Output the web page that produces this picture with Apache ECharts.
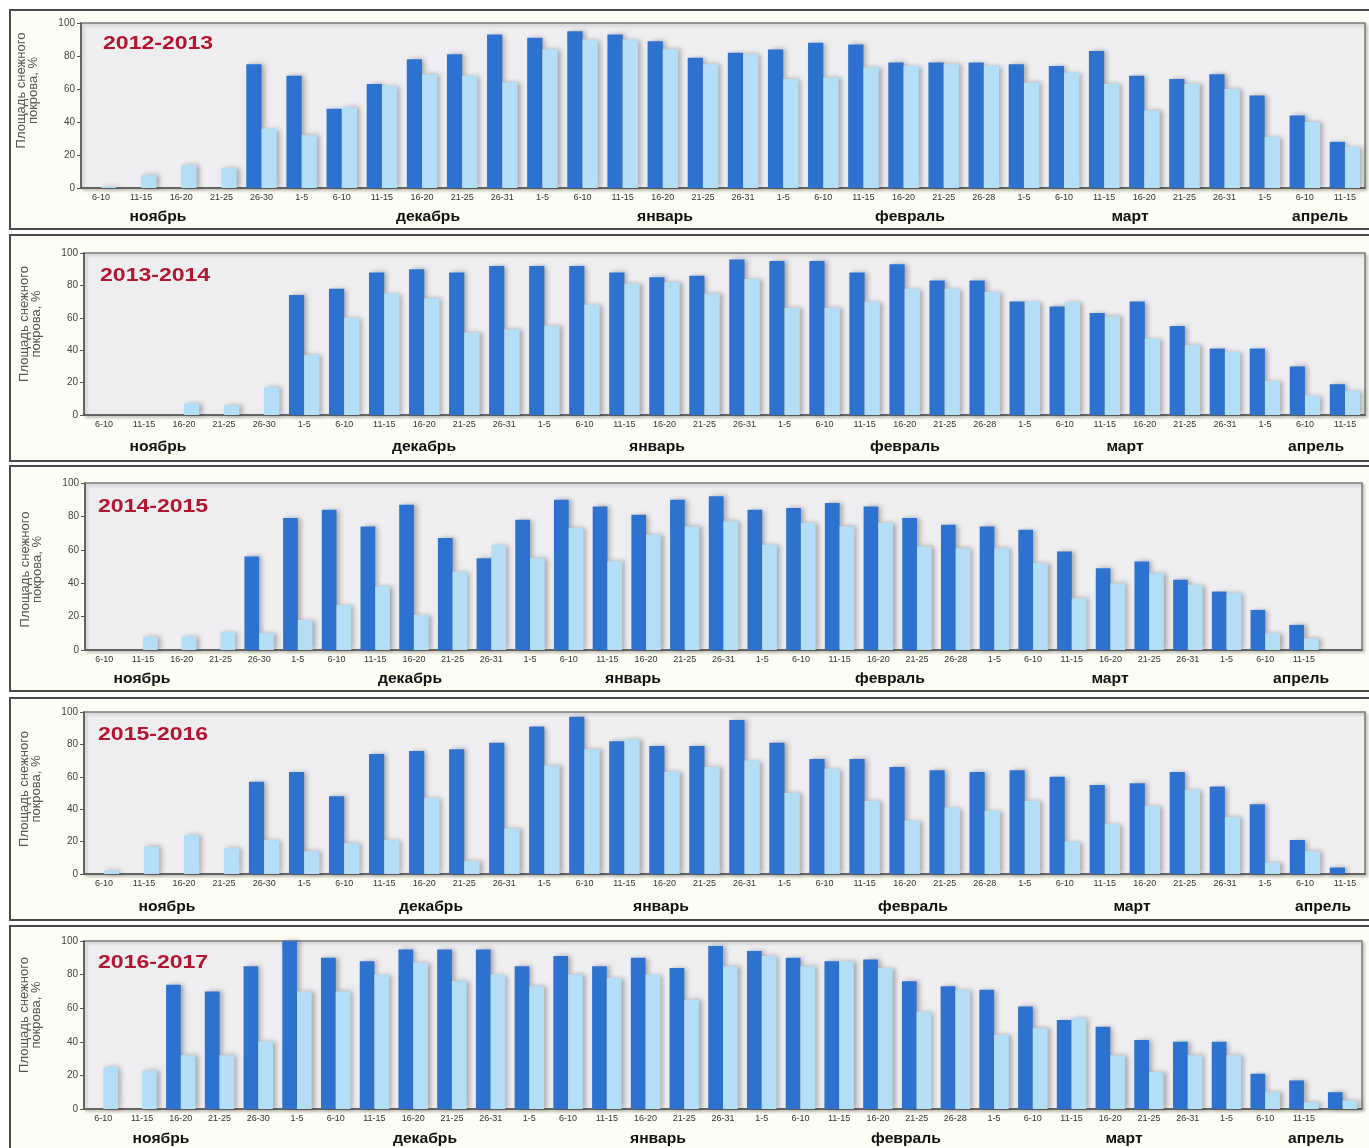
<!DOCTYPE html>
<html>
<head>
<meta charset="utf-8">
<script src="https://cdn.jsdelivr.net/npm/echarts@6/dist/echarts.min.js"></script>
<style>
  html, body { margin: 0; padding: 0; background: #fff; }
  #chart { width: 1369px; height: 1148px; }
</style>
</head>
<body>
<div id="chart"></div>
<script>
// пятидневки с 6 ноября по 15 апреля
const periods = [
  "6-10", "11-15", "16-20", "21-25", "26-30",
  "1-5", "6-10", "11-15", "16-20", "21-25", "26-31",
  "1-5", "6-10", "11-15", "16-20", "21-25", "26-31",
  "1-5", "6-10", "11-15", "16-20", "21-25", "26-28",
  "1-5", "6-10", "11-15", "16-20", "21-25", "26-31",
  "1-5", "6-10", "11-15",
];
// у двух сезонов есть ещё одна пятидневка без подписи
const periodsExt = periods.concat([""]);

const months = ["ноябрь", "декабрь", "январь", "февраль", "март", "апрель"];
const seasons = ["2012-2013", "2013-2014", "2014-2015", "2015-2016", "2016-2017"];
const yTicks = { min: 0, max: 100, interval: 20 };

// площадь снежного покрова, % (тёмные / светлые столбцы)
const dark1213 = [0, 0, 0, 0, 75, 68, 48, 63, 78, 81, 93, 91, 95, 93, 89, 79, 82, 84, 88, 87, 76, 76, 76, 75, 74, 83, 68, 66, 69, 56, 44, 28];
const light1213 = [1, 8, 14, 12, 36, 32, 49, 62, 69, 68, 64, 84, 90, 90, 84, 75, 81, 66, 67, 73, 74, 75, 74, 64, 70, 63, 47, 63, 60, 31, 40, 25];

const dark1314 = [0, 0, 0, 0, 0, 74, 78, 88, 90, 88, 92, 92, 92, 88, 85, 86, 96, 95, 95, 88, 93, 83, 83, 70, 67, 63, 70, 55, 41, 41, 30, 19];
const light1314 = [0, 0, 7, 6, 17, 37, 60, 75, 72, 51, 53, 55, 68, 81, 82, 75, 84, 66, 66, 70, 78, 78, 76, 70, 70, 61, 47, 43, 39, 21, 12, 15];

const dark1415 = [0, 0, 0, 0, 56, 79, 84, 74, 87, 67, 55, 78, 90, 86, 81, 90, 92, 84, 85, 88, 86, 79, 75, 74, 72, 59, 49, 53, 42, 35, 24, 15, null];
const light1415 = [0, 8, 8, 11, 10, 18, 27, 38, 21, 47, 63, 55, 73, 53, 69, 74, 77, 63, 76, 74, 76, 62, 61, 61, 52, 31, 40, 46, 39, 34, 10, 7, null];

const dark1516 = [0, 0, 0, 0, 57, 63, 48, 74, 76, 77, 81, 91, 97, 82, 79, 79, 95, 81, 71, 71, 66, 64, 63, 64, 60, 55, 56, 63, 54, 43, 21, 4];
const light1516 = [2, 17, 24, 16, 21, 14, 19, 21, 47, 8, 28, 67, 77, 83, 63, 66, 70, 50, 65, 45, 33, 41, 39, 45, 20, 31, 42, 52, 35, 7, 14, 0];

const dark1617 = [0, 0, 74, 70, 85, 100, 90, 88, 95, 95, 95, 85, 91, 85, 90, 84, 97, 94, 90, 88, 89, 76, 73, 71, 61, 53, 49, 41, 40, 40, 21, 17, 10];
const light1617 = [25, 23, 32, 32, 40, 70, 70, 80, 87, 76, 80, 73, 80, 78, 80, 65, 85, 91, 85, 88, 84, 58, 71, 44, 48, 54, 32, 22, 32, 32, 10, 4, 5];

// раскладка панелей (px); nameShift — сдвиг подписи оси Y вверх
const panels = [
  { season: seasons[0], cats: periods, dark: dark1213, light: light1213,
    frame: [10, 10, 1362, 219], grid: [81, 23, 1284, 165], nameShift: 15,
    yearAt: [103, 44], monthX: [158, 428, 665, 910, 1130, 1320], monthY: 217 },
  { season: seasons[1], cats: periods, dark: dark1314, light: light1314,
    frame: [10, 235, 1362, 226], grid: [84, 253, 1281, 162], nameShift: 10,
    yearAt: [100, 276], monthX: [158, 424, 657, 905, 1125, 1316], monthY: 447 },
  { season: seasons[2], cats: periodsExt, dark: dark1415, light: light1415,
    frame: [10, 466, 1362, 225], grid: [85, 483, 1277, 167], nameShift: -3,
    yearAt: [98, 507], monthX: [142, 410, 633, 890, 1110, 1301], monthY: 679 },
  { season: seasons[3], cats: periods, dark: dark1516, light: light1516,
    frame: [10, 698, 1362, 222], grid: [84, 712, 1281, 162], nameShift: 4,
    yearAt: [98, 735], monthX: [167, 431, 661, 913, 1132, 1323], monthY: 907 },
  { season: seasons[4], cats: periodsExt, dark: dark1617, light: light1617,
    frame: [10, 926, 1362, 226], grid: [84, 941, 1278, 168], nameShift: 10,
    yearAt: [98, 963], monthX: [161, 425, 658, 906, 1124, 1316], monthY: 1139 },
];

const FONT = "'Liberation Sans', Arial, sans-serif";
const DARK = "#2e72cf";
const LIGHT = "#b4ddf6";

const chart = echarts.init(document.getElementById("chart"));

const grid = [], xAxis = [], yAxis = [], series = [], graphic = [];

panels.forEach((p, i) => {
  grid.push({
    left: p.grid[0], top: p.grid[1], width: p.grid[2], height: p.grid[3],
    show: true, backgroundColor: "#eeeef1", borderColor: "#7a7a7a", borderWidth: 1.5,
    shadowColor: "rgba(0,0,0,0.2)", shadowBlur: 3, shadowOffsetX: 2, shadowOffsetY: 2,
  });
  xAxis.push({
    type: "category", gridIndex: i, data: p.cats,
    axisLine: { lineStyle: { color: "#555", width: 1.5 } },
    axisTick: { length: 3, lineStyle: { color: "#555" } },
    axisLabel: { interval: 0, fontSize: 9, color: "#333", margin: 5, fontFamily: FONT },
  });
  // сдвиг подписи через padding (текст повёрнут, поэтому смещение по локальной оси X)
  const sh = p.nameShift * 2;
  yAxis.push({
    type: "value", gridIndex: i, ...yTicks,
    axisLine: { show: true, lineStyle: { color: "#555", width: 1.5 } },
    axisTick: { show: true, length: 4, lineStyle: { color: "#555" } },
    splitLine: { show: false },
    axisLabel: { fontSize: 10, color: "#444", margin: 6, fontFamily: FONT },
    name: "Площадь снежного\nпокрова, %",
    nameLocation: "middle", nameGap: 42,
    nameTextStyle: {
      fontSize: 13, color: "#555", lineHeight: 12, fontFamily: FONT,
      padding: sh >= 0 ? [0, 0, 0, sh] : [0, -sh, 0, 0],
    },
  });
  const shadow = { shadowColor: "rgba(0,0,0,0.3)", shadowBlur: 5, shadowOffsetX: 3 };
  series.push({
    type: "bar", xAxisIndex: i, yAxisIndex: i, data: p.dark,
    barGap: "0%", barCategoryGap: "24%",
    itemStyle: { color: DARK, ...shadow },
  });
  series.push({
    type: "bar", xAxisIndex: i, yAxisIndex: i, data: p.light,
    barGap: "0%", barCategoryGap: "24%",
    itemStyle: { color: LIGHT, ...shadow },
  });

  // рамка панели
  graphic.push({
    type: "rect", z: -100,
    shape: { x: p.frame[0], y: p.frame[1], width: p.frame[2], height: p.frame[3] },
    style: { fill: "#fdfdf3", stroke: "#4a4a4a", lineWidth: 2 },
  });
  // сезон
  graphic.push({
    type: "text", z: 100, x: p.yearAt[0], y: p.yearAt[1], scaleX: 1.28,
    style: { text: p.season, font: `bold 18px ${FONT}`, fill: "#b3142f", verticalAlign: "middle" },
  });
  // месяцы
  months.forEach((m, k) => {
    graphic.push({
      type: "text", z: 100, x: p.monthX[k], y: p.monthY, scaleX: 1.12,
      style: { text: m, font: `bold 14px ${FONT}`, fill: "#111", align: "center", verticalAlign: "middle" },
    });
  });
});

chart.setOption({
  animation: false,
  backgroundColor: "#fff",
  grid, xAxis, yAxis, series, graphic,
});
</script>
</body>
</html>
